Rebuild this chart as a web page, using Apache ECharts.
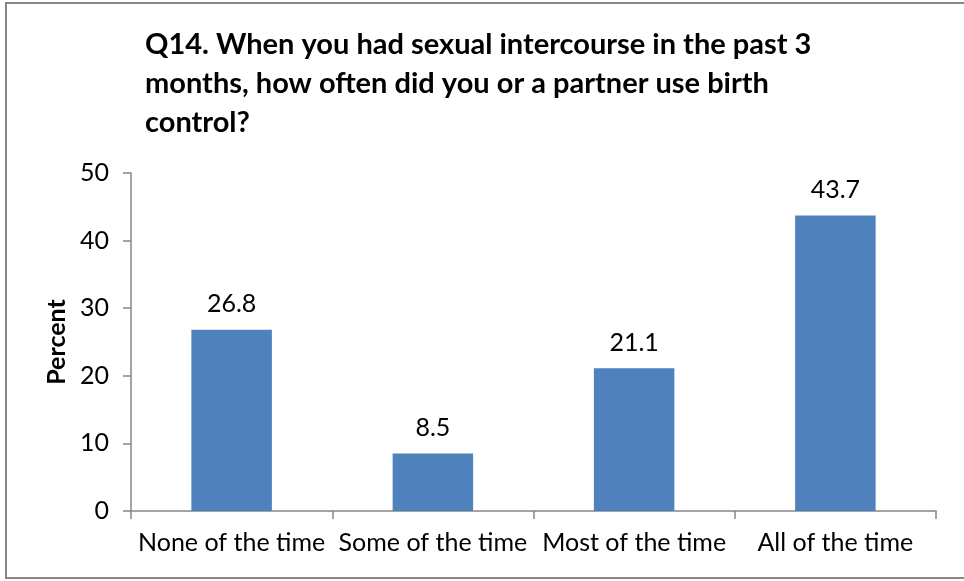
<!DOCTYPE html>
<html>
    <head>
        <meta charset="utf-8">
        <title>Q14 birth control</title>
        <script src="https://cdn.jsdelivr.net/npm/echarts@6/dist/echarts.min.js"></script>
        <style>
            html, body { margin: 0; padding: 0; background: #fff; }
            #chart1 { width: 964px; height: 581px; }
        </style>
    </head>
    <body>
        <div id="chart1"></div>
        <script type="text/javascript">
            var categories = ['None of the time', 'Some of the time', 'Most of the time', 'All of the time'];
            var percents = [26.8, 8.5, 21.1, 43.7];
            var yTicks = [0, 10, 20, 30, 40, 50];

            var font = 'Lato, Carlito, Calibri, sans-serif';
            var myChart1 = echarts.init(document.getElementById('chart1'));
            myChart1.setOption({
                animation: false,
                title: {
                    text: 'Q14. When you had sexual intercourse in the past 3\nmonths, how often did you or a partner use birth\ncontrol?',
                    left: 140,
                    top: 20,
                    textStyle: {
                        fontFamily: font,
                        fontWeight: 'bold',
                        fontSize: 29,
                        lineHeight: 39,
                        color: '#000'
                    }
                },
                graphic: [{
                    type: 'rect',
                    shape: { x: 6, y: 3, width: 970, height: 575 },
                    style: { fill: 'none', stroke: '#868686', lineWidth: 2 },
                    silent: true
                }],
                grid: { left: 131, right: 28, top: 173, bottom: 70, containLabel: false },
                xAxis: {
                    type: 'category',
                    data: categories,
                    axisLine: { lineStyle: { color: '#868686', width: 1.5 } },
                    axisTick: { show: true, length: 8, lineStyle: { color: '#868686', width: 1.5 } },
                    axisLabel: { color: '#000', fontFamily: font, fontSize: 25, margin: 19, interval: 0 }
                },
                yAxis: {
                    type: 'value',
                    min: yTicks[0],
                    max: yTicks[yTicks.length - 1],
                    interval: 10,
                    name: 'Percent',
                    nameLocation: 'middle',
                    nameGap: 60,
                    nameTextStyle: { color: '#000', fontFamily: font, fontSize: 25, fontWeight: 'bold' },
                    axisLine: { show: true, lineStyle: { color: '#868686', width: 1.5 } },
                    axisTick: { show: true, length: 8, lineStyle: { color: '#868686', width: 1.5 } },
                    axisLabel: { color: '#000', fontFamily: font, fontSize: 25, margin: 22 },
                    splitLine: { show: false }
                },
                series: [{
                    type: 'bar',
                    data: percents,
                    barWidth: '40%',
                    itemStyle: { color: '#4F81BD' },
                    label: {
                        show: true,
                        position: 'top',
                        distance: 13,
                        color: '#000',
                        fontFamily: font,
                        fontSize: 25
                    }
                }]
            });
        </script>
    </body>
</html>
